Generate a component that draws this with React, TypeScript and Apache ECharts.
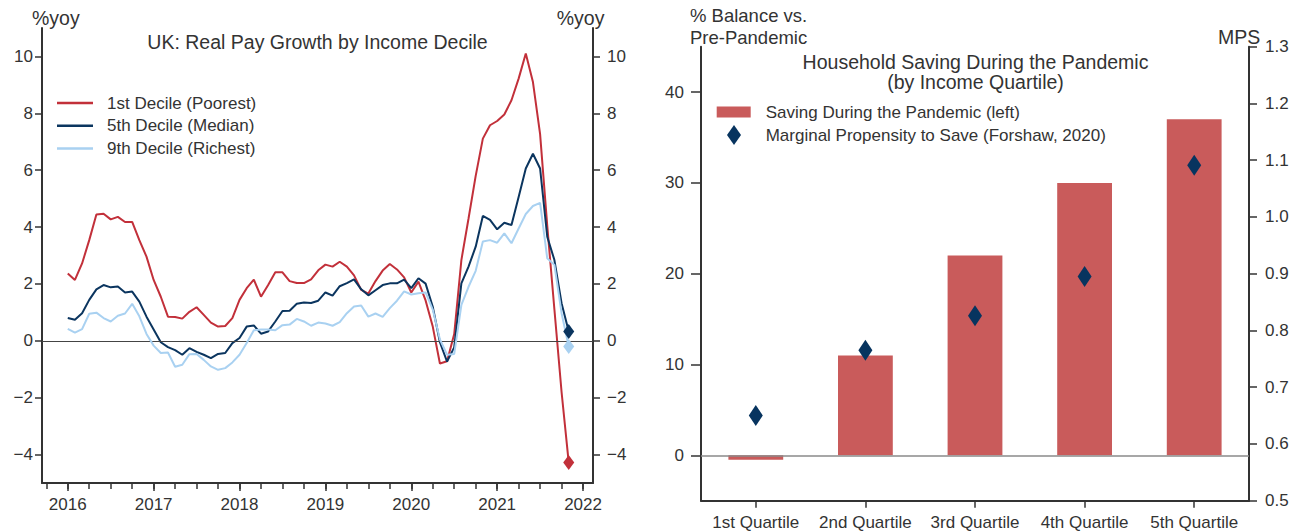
import React, { useEffect, useRef } from 'react';
import * as echarts from 'echarts';

const FONT = '"Liberation Sans", Arial, Helvetica, sans-serif';
const TEXT = '#333333';
const AXIS = '#333333';

// ---- Left panel: UK real pay growth by income decile (%yoy), monthly from Jan 2016 ----
const START_YEAR = 2016;
const decile1 = [
  2.37, 2.14, 2.72, 3.54, 4.44, 4.47, 4.27, 4.36, 4.18, 4.18, 3.54, 2.96,
  2.14, 1.55, 0.85, 0.84, 0.78, 1.02, 1.18, 0.91, 0.64, 0.5, 0.52, 0.8,
  1.44, 1.85, 2.15, 1.55, 1.96, 2.41, 2.41, 2.1, 2.03, 2.03, 2.16, 2.48,
  2.68, 2.61, 2.78, 2.61, 2.3, 1.79, 1.66, 2.1, 2.47, 2.7, 2.51, 2.23,
  1.7, 2.08, 1.42, 0.5, -0.8, -0.72, 0.24, 2.84, 4.3, 5.8, 7.11, 7.58,
  7.73, 7.96, 8.46, 9.22, 10.1, 9.1, 7.27, 4.04, 1.1, -1.8, -4.28,
];
const decile5 = [
  0.8, 0.74, 0.97, 1.44, 1.81, 1.96, 1.88, 1.91, 1.7, 1.73, 1.38, 0.85,
  0.4, -0.05, -0.22, -0.33, -0.49, -0.26, -0.39, -0.49, -0.61, -0.46, -0.43, -0.08,
  0.1, 0.5, 0.54, 0.25, 0.33, 0.68, 1.05, 1.06, 1.3, 1.35, 1.33, 1.41,
  1.7, 1.59, 1.92, 2.03, 2.16, 1.81, 1.6, 1.78, 1.96, 2.02, 2.02, 2.15,
  1.85, 2.2, 2.01, 1.2, -0.05, -0.73, -0.23, 2.02, 2.61, 3.31, 4.39, 4.25,
  3.92, 4.15, 4.07, 5.06, 6.06, 6.58, 6.06, 3.66, 2.84, 1.32, 0.33,
];
const decile9 = [
  0.42, 0.29, 0.41, 0.95, 0.99, 0.8, 0.68, 0.88, 0.96, 1.3, 0.86, 0.24,
  -0.17, -0.43, -0.41, -0.91, -0.84, -0.47, -0.46, -0.67, -0.9, -1.02, -0.96, -0.76,
  -0.49, -0.08, 0.37, 0.4, 0.4, 0.37, 0.55, 0.57, 0.77, 0.68, 0.53, 0.64,
  0.61, 0.53, 0.66, 0.97, 1.21, 1.24, 0.85, 0.96, 0.84, 1.15, 1.41, 1.74,
  1.63, 1.67, 1.7, 1.1, 0.05, -0.49, -0.46, 1.26, 1.9, 2.46, 3.49, 3.54,
  3.45, 3.78, 3.43, 3.95, 4.46, 4.74, 4.85, 2.9, 2.67, 0.97, -0.2,
];
const decileNames = ['1st Decile (Poorest)', '5th Decile (Median)', '9th Decile (Richest)'];
const decileColors = ['#C2303A', '#0B355F', '#A9D1F1'];
const yearTicks = [2016, 2017, 2018, 2019, 2020, 2021, 2022];
const quarterTicks = [
  2015.75, 2016, 2016.25, 2016.5, 2016.75, 2017, 2017.25, 2017.5, 2017.75,
  2018, 2018.25, 2018.5, 2018.75, 2019, 2019.25, 2019.5, 2019.75,
  2020, 2020.25, 2020.5, 2020.75, 2021, 2021.25, 2021.5, 2021.75, 2022,
];
const yoyTicks = [-4, -2, 0, 2, 4, 6, 8, 10];

// ---- Right panel: household saving during the pandemic by income quartile ----
const quartiles = ['1st Quartile', '2nd Quartile', '3rd Quartile', '4th Quartile', '5th Quartile'];
const savingDuringPandemic = [-0.5, 11, 22, 30, 37];
const marginalPropensityToSave = [0.65, 0.765, 0.826, 0.895, 1.091];
const savingTicks = [0, 10, 20, 30, 40];
const mpsTicks = [0.5, 0.6, 0.7, 0.8, 0.9, 1.0, 1.1, 1.2, 1.3];
const savingName = 'Saving During the Pandemic (left)';
const mpsName = 'Marginal Propensity to Save (Forshaw, 2020)';

const toXY = (arr: number[]) => arr.map((v, i) => [START_YEAR + i / 12, v]);
const fmtMinus = (v: number) => (v < 0 ? '\u2212' + Math.abs(v) : String(v));

export default function App() {
  const ref = useRef<HTMLDivElement>(null);

  useEffect(() => {
    if (!ref.current) return;
    const chart = echarts.init(ref.current, null, { renderer: 'svg' });

    const xMin = 2015.7;
    const xMax = 2022.116;

    const axisLineStyle = { color: AXIS, width: 2 };
    const tickLineStyle = { color: AXIS, width: 1.5 };
    const labelStyle = { fontSize: 17, color: TEXT, fontFamily: FONT };

    const lastIdx = decile1.length - 1;
    const endPoints = [decile1, decile5, decile9].map((arr, k) => ({
      value: [START_YEAR + lastIdx / 12, arr[lastIdx]],
      itemStyle: { color: decileColors[k], opacity: 1 },
    }));

    const option: any = {
      animation: false,
      textStyle: { fontFamily: FONT },
      grid: [
        { left: 42, top: 28, width: 551, height: 455 },
        { left: 701, top: 46.7, width: 548, height: 454 },
      ],
      xAxis: [
        {
          gridIndex: 0,
          type: 'value',
          min: xMin,
          max: xMax,
          position: 'bottom',
          splitLine: { show: false },
          axisLine: { show: true, onZero: false, lineStyle: axisLineStyle },
          axisTick: { show: true, customValues: yearTicks, length: 8, lineStyle: tickLineStyle },
          axisLabel: {
            ...labelStyle,
            customValues: yearTicks,
            margin: 13,
            formatter: (v: number) => String(Math.round(v)),
          },
        },
        {
          gridIndex: 0,
          type: 'value',
          min: xMin,
          max: xMax,
          position: 'bottom',
          splitLine: { show: false },
          axisLine: { show: false, onZero: false },
          axisTick: { show: true, customValues: quarterTicks, length: 6, lineStyle: tickLineStyle },
          axisLabel: { show: false },
        },
        {
          gridIndex: 1,
          type: 'category',
          data: quartiles,
          axisLine: { show: true, onZero: false, lineStyle: axisLineStyle },
          axisTick: { show: true, alignWithLabel: true, length: 7, lineStyle: tickLineStyle },
          axisLabel: { ...labelStyle, margin: 13, interval: 0 },
        },
      ],
      yAxis: [
        {
          gridIndex: 0,
          type: 'value',
          min: -5,
          max: 11,
          position: 'left',
          splitLine: { show: false },
          axisLine: { show: true, lineStyle: axisLineStyle },
          axisTick: { show: true, customValues: yoyTicks, length: 7, lineStyle: tickLineStyle },
          axisLabel: { ...labelStyle, customValues: yoyTicks, margin: 9, formatter: fmtMinus },
        },
        {
          gridIndex: 0,
          type: 'value',
          min: -5,
          max: 11,
          position: 'right',
          splitLine: { show: false },
          axisLine: { show: true, lineStyle: axisLineStyle },
          axisTick: { show: true, customValues: yoyTicks, length: 7, lineStyle: tickLineStyle },
          axisLabel: { ...labelStyle, customValues: yoyTicks, margin: 14, formatter: fmtMinus },
        },
        {
          gridIndex: 1,
          type: 'value',
          min: -5,
          max: 45,
          position: 'left',
          splitLine: { show: false },
          axisLine: { show: true, lineStyle: axisLineStyle },
          axisTick: { show: true, customValues: savingTicks, length: 10, lineStyle: tickLineStyle },
          axisLabel: { ...labelStyle, customValues: savingTicks, margin: 17 },
        },
        {
          gridIndex: 1,
          type: 'value',
          min: 0.5,
          max: 1.3,
          position: 'right',
          splitLine: { show: false },
          axisLine: { show: true, lineStyle: axisLineStyle },
          axisTick: { show: true, customValues: mpsTicks, length: 8, lineStyle: tickLineStyle },
          axisLabel: {
            ...labelStyle,
            customValues: mpsTicks,
            margin: 16,
            formatter: (v: number) => v.toFixed(1),
          },
        },
      ],
      legend: [
        {
          data: decileNames.map((n) => ({ name: n, icon: 'rect' })),
          orient: 'vertical',
          left: 57,
          top: 94.5,
          padding: 0,
          itemWidth: 36,
          itemHeight: 2.5,
          itemGap: 5.7,
          symbolKeepAspect: false,
          textStyle: { fontSize: 17, color: TEXT, fontFamily: FONT, padding: [0, 0, 0, 9] },
        },
        {
          data: [{ name: savingName, icon: 'rect' }],
          left: 716.7,
          top: 103.5,
          padding: 0,
          itemWidth: 34,
          itemHeight: 11,
          textStyle: { fontSize: 17, color: TEXT, fontFamily: FONT, padding: [0, 0, 0, 10] },
        },
        {
          data: [{ name: mpsName, icon: 'diamond' }],
          left: 727,
          top: 125,
          padding: 0,
          itemWidth: 14,
          itemHeight: 20,
          symbolKeepAspect: false,
          textStyle: { fontSize: 17, color: TEXT, fontFamily: FONT, padding: [0, 0, 0, 19.7] },
        },
      ],
      graphic: [
        {
          type: 'text',
          x: 317.5,
          y: 42,
          style: { text: 'UK: Real Pay Growth by Income Decile', fill: TEXT, font: `19.5px ${FONT}`, align: 'center', verticalAlign: 'middle' },
        },
        {
          type: 'text',
          x: 975.5,
          y: 72,
          style: {
            text: 'Household Saving During the Pandemic\n(by Income Quartile)',
            fill: TEXT,
            font: `19.5px ${FONT}`,
            lineHeight: 20,
            align: 'center',
            verticalAlign: 'middle',
          },
        },
        {
          type: 'text',
          x: 32,
          y: 18,
          style: { text: '%yoy', fill: TEXT, font: `19.5px ${FONT}`, align: 'left', verticalAlign: 'middle' },
        },
        {
          type: 'text',
          x: 556.7,
          y: 18,
          style: { text: '%yoy', fill: TEXT, font: `19.5px ${FONT}`, align: 'left', verticalAlign: 'middle' },
        },
        {
          type: 'text',
          x: 690,
          y: 15.5,
          style: { text: '% Balance vs.', fill: TEXT, font: `18.5px ${FONT}`, align: 'left', verticalAlign: 'middle' },
        },
        {
          type: 'text',
          x: 690,
          y: 37,
          style: { text: 'Pre-Pandemic', fill: TEXT, font: `18.5px ${FONT}`, align: 'left', verticalAlign: 'middle' },
        },
        {
          type: 'text',
          x: 1218,
          y: 37,
          style: { text: 'MPS', fill: TEXT, font: `19.5px ${FONT}`, align: 'left', verticalAlign: 'middle' },
        },
      ],
      series: [
        ...[decile1, decile5, decile9].map((arr, k) => ({
          name: decileNames[k],
          type: 'line',
          xAxisIndex: 0,
          yAxisIndex: 0,
          data: toXY(arr),
          symbol: 'none',
          lineStyle: { color: decileColors[k], width: 2 },
          itemStyle: { color: decileColors[k] },
          z: 3 + k,
          markLine:
            k === 0
              ? {
                  silent: true,
                  symbol: 'none',
                  label: { show: false },
                  lineStyle: { color: '#444', width: 1, type: 'solid' },
                  data: [{ yAxis: 0 }],
                }
              : undefined,
        })),
        {
          name: 'Latest',
          type: 'scatter',
          xAxisIndex: 0,
          yAxisIndex: 0,
          symbol: 'diamond',
          symbolSize: [11, 15],
          data: endPoints,
          z: 10,
        },
        {
          name: savingName,
          type: 'bar',
          xAxisIndex: 2,
          yAxisIndex: 2,
          data: savingDuringPandemic,
          barWidth: '50%',
          itemStyle: { color: '#C95B5B' },
          markLine: {
            silent: true,
            symbol: 'none',
            label: { show: false },
            lineStyle: { color: '#8a8a8a', width: 1.5, type: 'solid' },
            data: [{ yAxis: 0 }],
          },
        },
        {
          name: mpsName,
          type: 'scatter',
          xAxisIndex: 2,
          yAxisIndex: 3,
          data: marginalPropensityToSave,
          symbol: 'diamond',
          symbolSize: [14, 21],
          itemStyle: { color: '#07345F', opacity: 1 },
          z: 5,
        },
      ],
    };

    chart.setOption(option);
    return () => chart.dispose();
  }, []);

  return (
    <div
      ref={ref}
      style={{ position: 'fixed', left: 0, top: 0, width: 1301, height: 531, background: '#ffffff' }}
    />
  );
}
